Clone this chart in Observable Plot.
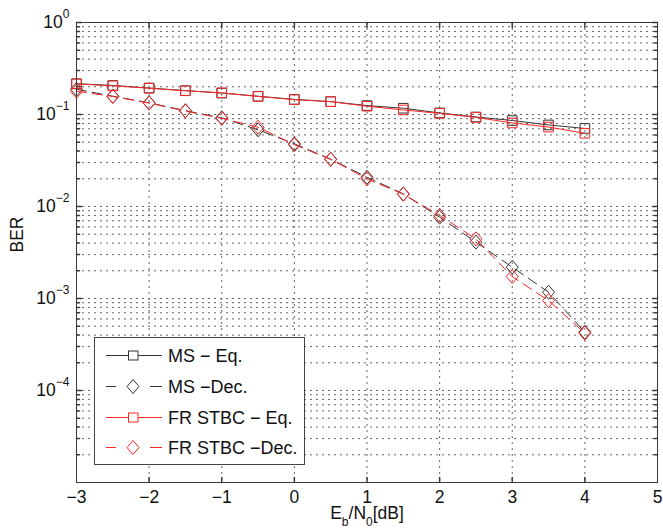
<!DOCTYPE html>
<html><head><meta charset="utf-8">
<script src="https://cdn.jsdelivr.net/npm/d3@7"></script>
<script src="https://cdn.jsdelivr.net/npm/@observablehq/plot@0.6"></script>
<style>body{margin:0;background:#fff;} svg{display:block;}</style>
</head><body><div id="chart"></div>
<script>
// ---- data ----
const ebn0  = [-3, -2.5, -2, -1.5, -1, -0.5, 0, 0.5, 1, 1.5, 2, 2.5, 3, 3.5, 4];
const msEq  = [0.216, 0.207, 0.194, 0.182, 0.171, 0.158, 0.146, 0.138, 0.125, 0.117, 0.104, 0.094, 0.086, 0.077, 0.0705];
const frEq  = [0.215, 0.205, 0.193, 0.181, 0.172, 0.157, 0.145, 0.138, 0.123, 0.112, 0.103, 0.093, 0.081, 0.073, 0.0625];
const msDec = [0.188, 0.158, 0.134, 0.110, 0.092, 0.0682, 0.048, 0.0327, 0.0208, 0.0137, 0.00765, 0.0041, 0.00219, 0.00117, 0.00043];
const frDec = [0.179, 0.157, 0.133, 0.109, 0.091, 0.0728, 0.047, 0.0325, 0.0200, 0.0136, 0.0080, 0.00445, 0.00173, 0.00095, 0.00042];
const seriesNames = ["MS \u2212 Eq.", "MS \u2212Dec.", "FR STBC \u2212 Eq.", "FR STBC \u2212Dec."];
const xTicks = [-3, -2, -1, 0, 1, 2, 3, 4, 5];
const yTicks = [1, 0.1, 0.01, 0.001, 0.0001];
const yTickLabels = ["10^0", "10^\u22121", "10^\u22122", "10^\u22123", "10^\u22124"];
const xLabel = "E_b/N_0[dB]";
const yLabel = "BER";

// ---- styling ----
const FONT = "'Liberation Sans', Arial, Helvetica, sans-serif";
const BLACK = "#333", RED = "#ff2626", AXIS = "#3a3a3a", GRID = "#666";
const decades = [1e-5, 1e-4, 1e-3, 1e-2, 1e-1];
const yMinor = decades.flatMap(d => [2,3,4,5,6,7,8,9].map(k => +(k*d).toPrecision(3)));
const yGrid = [...yTicks.filter(v => v < 1), ...yMinor];
const xInner = xTicks.filter(v => v > -3 && v < 5);

const squareSym = {draw(ctx, size){ const r = Math.sqrt(size/Math.PI)*0.8; ctx.moveTo(-r,-r); ctx.lineTo(r,-r); ctx.lineTo(r,r); ctx.lineTo(-r,r); ctx.closePath(); }};
const diamondSym = {draw(ctx, size){ const r = Math.sqrt(size/Math.PI); const h = r*1.17; ctx.moveTo(0,-h); ctx.lineTo(r,0); ctx.lineTo(0,h); ctx.lineTo(-r,0); ctx.closePath(); }};
const tickShape = {draw(ctx, l){ ctx.moveTo(0,0); ctx.lineTo(0,-l); }};

const idx = ebn0.map((_, i) => i);
function series(vals, color, dashed, sym){
  return [
    Plot.line(idx, {x: i => ebn0[i], y: i => vals[i], stroke: color, strokeWidth: 1, strokeDasharray: dashed ? "10,6" : null}),
    Plot.dot(idx, {x: i => ebn0[i], y: i => vals[i], symbol: sym, r: 6, stroke: color, fill: "none", strokeWidth: 1})
  ];
}
function ticksY(vals, len){
  return [
    Plot.vector(vals, {x: () => -3, y: d => d, rotate: 90, length: len, anchor: "start", shape: tickShape, stroke: AXIS}),
    Plot.vector(vals, {x: () => 5, y: d => d, rotate: -90, length: len, anchor: "start", shape: tickShape, stroke: AXIS})
  ];
}

const svg = Plot.plot({
  width: 663, height: 532,
  marginLeft: 76, marginRight: 6, marginTop: 22, marginBottom: 50,
  style: {fontFamily: FONT, fontSize: "17px", background: "#fff", color: "#111"},
  x: {domain: [-3, 5], axis: null},
  y: {type: "log", domain: [1e-5, 1], axis: null},
  marks: [
    Plot.gridX(xInner, {stroke: GRID, strokeOpacity: 1, strokeDasharray: "2,4"}),
    Plot.gridY(yGrid, {stroke: GRID, strokeOpacity: 1, strokeDasharray: "2,4"}),
    ...ticksY(yTicks, 5),
    ...ticksY(yMinor, 3),
    Plot.vector(xInner, {x: d => d, y: () => 1e-5, rotate: 0, length: 5, anchor: "start", shape: tickShape, stroke: AXIS}),
    Plot.vector(xInner, {x: d => d, y: () => 1, rotate: 180, length: 5, anchor: "start", shape: tickShape, stroke: AXIS}),
    Plot.axisX(xTicks, {tickSize: 0, tickPadding: 8, label: null, fontSize: 17.5, fill: "#111"}),
    Plot.axisY(yTicks, {tickSize: 0, tickPadding: 7, label: null, fontSize: 17.5, fill: "#111",
      tickFormat: d => yTickLabels[yTicks.indexOf(d)]}),
    ...series(msEq, BLACK, false, squareSym),
    ...series(msDec, BLACK, true, diamondSym),
    ...series(frEq, RED, false, squareSym),
    ...series(frDec, RED, true, diamondSym),
    Plot.frame({stroke: AXIS, strokeWidth: 1}),
    Plot.text([yLabel], {text: d => d, frameAnchor: "left", dx: -59, rotate: -90, fontSize: 17.5, fill: "#111"}),
    Plot.text([xLabel], {text: d => d, frameAnchor: "bottom", dy: 36, fontSize: 17.5, fill: "#111"})
  ]
});

const root = d3.select(svg);
// superscripts / subscripts
root.selectAll("text").each(function(){
  const t = this.textContent;
  if (yTickLabels.includes(t)) {
    const [b, e] = t.split("^");
    const s = d3.select(this); s.text(b);
    s.append("tspan").attr("dy", -10).attr("font-size", 12).text(e);
  } else if (t === xLabel) {
    const s = d3.select(this); s.text("E");
    s.append("tspan").attr("dy", 7).attr("font-size", 12).text("b");
    s.append("tspan").attr("dy", -7).text("/N");
    s.append("tspan").attr("dy", 7).attr("font-size", 12).text("0");
    s.append("tspan").attr("dy", -7).text("[dB]");
  }
});

// legend
const lg = root.append("g").attr("font-family", FONT).attr("font-size", 18).attr("text-anchor", "start");
lg.append("rect").attr("x", 94.5).attr("y", 337.5).attr("width", 210).attr("height", 127)
  .attr("fill", "#fff").attr("stroke", "#444");
const legendRows = [
  {name: seriesNames[0], color: BLACK, dashed: false},
  {name: seriesNames[1], color: BLACK, dashed: true},
  {name: seriesNames[2], color: RED, dashed: false},
  {name: seriesNames[3], color: RED, dashed: true}
];
const rowY = [355, 386, 417, 447];
legendRows.forEach((r, i) => {
  const y = rowY[i] + 0.5;
  if (r.dashed) {
    lg.append("line").attr("x1", 106).attr("x2", 116).attr("y1", y).attr("y2", y).attr("stroke", r.color);
    lg.append("line").attr("x1", 150).attr("x2", 162).attr("y1", y).attr("y2", y).attr("stroke", r.color);
    lg.append("path").attr("d", `M133,${y-7}L139,${y}L133,${y+7}L127,${y}Z`).attr("fill", "none").attr("stroke", r.color);
  } else {
    lg.append("line").attr("x1", 106).attr("x2", 162).attr("y1", y).attr("y2", y).attr("stroke", r.color);
    lg.append("rect").attr("x", 128.5).attr("y", y-4.5).attr("width", 9.5).attr("height", 9).attr("fill", "#fff").attr("stroke", r.color);
  }
  lg.append("text").attr("x", 168).attr("y", y).attr("dy", "0.35em").attr("text-anchor", "start").attr("fill", "#111").text(r.name);
});

document.getElementById("chart").appendChild(svg);
</script>
</body></html>
